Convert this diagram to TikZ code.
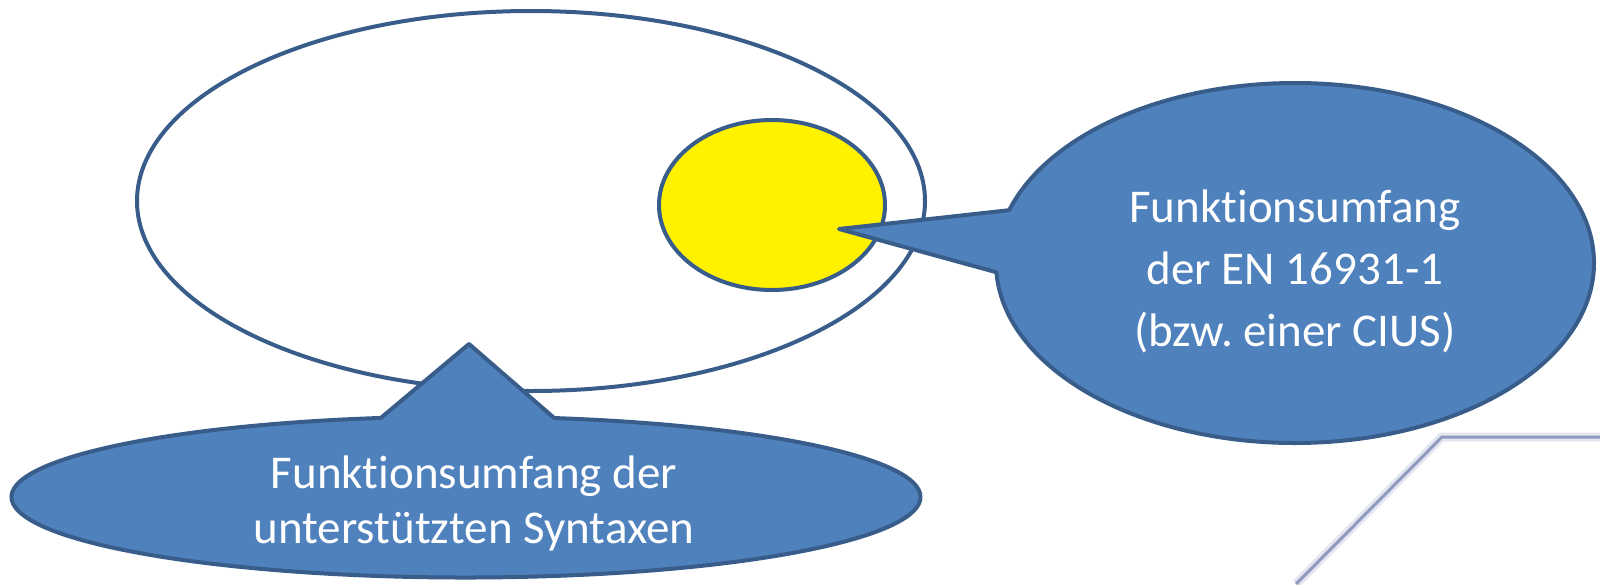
\documentclass[tikz,border=0pt]{standalone}
\usepackage{fontspec}
\setmainfont{Carlito}[Ligatures=NoCommon]
\usetikzlibrary{shapes.geometric,shapes.callouts}

\definecolor{edgeblue}{RGB}{56,93,138}
\definecolor{fillblue}{RGB}{79,129,189}
\definecolor{rimgrey}{RGB}{142,154,190}

\tikzset{
  rim/.style={ellipse,draw=edgeblue,line width=4pt,inner sep=0pt,outer sep=0pt},
  bubble/.style={ellipse callout,draw=edgeblue,fill=fillblue,line width=4pt,
    line join=round,inner sep=0pt,outer sep=0pt},
  bubbletext/.style={text=white,align=center,inner sep=0pt}
}

\begin{document}
\frenchspacing
\begin{tikzpicture}[x=1pt,y=-1pt]
  \useasboundingbox (0,0) rectangle (1600,584);

  % scope of the syntaxes and the norm inside it
  \node[rim,fill=white,minimum width=788pt,minimum height=380pt] (syntax) at (531,201) {};
  \node[rim,fill=yellow,minimum width=226pt,minimum height=170pt] (norm) at (772,205) {};

  % callouts
  \node[bubble,minimum width=598pt,minimum height=360pt,
    callout absolute pointer={(839,229)},callout pointer arc=20] (normcall) at (1295,263) {};
  \node[bubbletext,font=\fontsize{47}{62}\selectfont] (normtext) at (1295,271)
    {Funktionsumfang\\der EN 16931-1\\(bzw. einer CIUS)};

  \node[bubble,minimum width=909pt,minimum height=161pt,
    callout absolute pointer={(469,344)},callout pointer arc=22] (syntaxcall) at (466,497) {};
  \node[bubbletext,font=\fontsize{47}{55}\selectfont] (syntaxtext) at (474,503)
    {Funktionsumfang der\\unterstützten Syntaxen};

  % corner of the frame at the bottom right
  \coordinate (bend) at (1442,437);
  \coordinate (foot) at (1296,584);
  \coordinate (edge) at (1600,437);
  \draw[rimgrey!25,line width=9pt] (foot) -- (bend) -- (edge);
  \draw[rimgrey,line width=3pt] (foot) -- (bend) -- (edge);
\end{tikzpicture}
\end{document}
